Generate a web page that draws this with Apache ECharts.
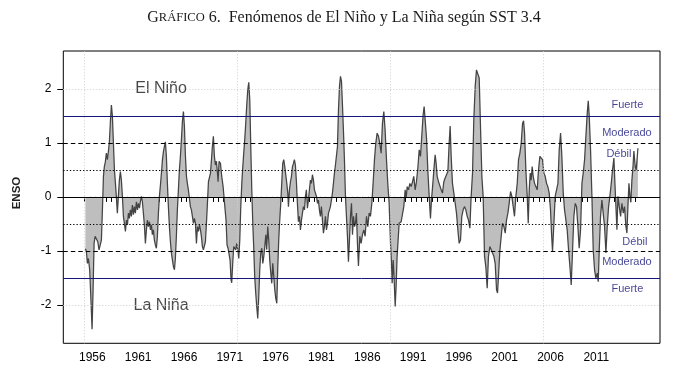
<!DOCTYPE html>
<html><head><meta charset="utf-8">
<script src="https://cdn.jsdelivr.net/npm/echarts@6/dist/echarts.min.js"></script>
<style>html,body{margin:0;padding:0;background:#fff}#c{width:681px;height:387px}</style>
</head><body><div id="c"></div>
<script>
// ENSO index (SST Niño 3.4 anomaly), [decimal year, value]
const enso1955 = [
[1955.24,-0.96],[1955.35,-1.01],[1955.46,-1.23],[1955.57,-1.14],[1955.71,-1.35],[1955.86,-1.97],[1955.97,-2.45],[1956.08,-1.72],
[1956.19,-0.86],[1956.30,-0.73],[1956.44,-0.70],[1956.59,-0.83],[1956.73,-0.98],[1956.88,-0.97],[1956.99,-0.80],[1957.10,-0.24],
[1957.21,0.38],[1957.31,0.56],[1957.42,0.65],[1957.53,0.81],[1957.64,0.69],[1957.75,0.84],[1957.86,1.02],[1957.97,1.40],
[1958.08,1.70],[1958.19,1.49],[1958.30,0.99],[1958.41,0.50],[1958.52,0.25],[1958.62,0.01],[1958.73,-0.30],[1958.84,0.01],
[1958.95,0.31],[1959.06,0.47],[1959.17,0.31],[1959.28,0.01],[1959.39,-0.36],[1959.50,-0.49],[1959.61,-0.64],[1959.72,-0.43],
[1959.83,-0.52],[1959.94,-0.30],[1960.04,-0.40],[1960.15,-0.24],[1960.26,-0.36],[1960.37,-0.15],[1960.48,-0.33],[1960.59,-0.18],
[1960.70,-0.30],[1960.81,-0.09],[1960.92,-0.24],[1961.03,-0.12],[1961.14,-0.21],[1961.24,-0.09],[1961.35,0.01],[1961.46,-0.09],
[1961.57,-0.30],[1961.68,-0.52],[1961.79,-0.86],[1961.90,-0.61],[1962.01,-0.43],[1962.12,-0.55],[1962.23,-0.46],[1962.34,-0.61],
[1962.45,-0.52],[1962.55,-0.70],[1962.66,-0.61],[1962.77,-0.80],[1962.88,-0.89],[1962.99,-0.95],[1963.10,-0.73],[1963.21,-0.30],
[1963.32,0.01],[1963.43,0.22],[1963.54,0.44],[1963.65,0.69],[1963.76,0.84],[1963.86,0.93],[1963.97,1.02],[1964.08,0.75],
[1964.19,0.25],[1964.30,-0.18],[1964.41,-0.55],[1964.52,-0.83],[1964.63,-1.04],[1964.74,-1.17],[1964.85,-1.29],[1964.96,-1.35],
[1965.06,-1.14],[1965.17,-0.73],[1965.28,-0.24],[1965.39,0.13],[1965.50,0.50],[1965.61,0.75],[1965.72,1.06],[1965.83,1.40],
[1965.94,1.58],[1966.05,1.30],[1966.16,0.75],[1966.27,0.38],[1966.37,0.25],[1966.48,0.13],[1966.59,-0.02],[1966.70,-0.18],
[1966.81,-0.24],[1966.92,-0.36],[1967.03,-0.49],[1967.14,-0.40],[1967.25,-0.49],[1967.36,-0.86],[1967.47,-0.55],[1967.58,-0.64],
[1967.69,-0.52],[1967.80,-0.61],[1967.90,-0.73],[1968.01,-0.92],[1968.12,-0.98],[1968.23,-1.01],[1968.34,-0.83],[1968.45,-0.49],
[1968.56,-0.12],[1968.67,0.28],[1968.78,0.28],[1968.89,0.44],[1969.00,0.69],[1969.10,0.93],[1969.21,1.12],[1969.32,0.75],
[1969.43,0.59],[1969.54,0.66],[1969.65,0.45],[1969.72,0.28],[1969.83,0.66],[1969.98,0.62],[1970.12,0.38],[1970.27,0.19]
];
const enso1970 = [
[1970.38,-0.02],[1970.49,-0.24],[1970.59,-0.43],[1970.70,-0.89],[1970.81,-0.95],[1970.92,-0.98],[1971.03,-1.17],[1971.14,-1.54],
[1971.21,-1.59],[1971.32,-1.23],[1971.43,-0.92],[1971.54,-0.89],[1971.65,-0.98],[1971.76,-0.86],[1971.87,-0.98],[1971.98,-1.14],
[1972.09,-0.80],[1972.20,-0.18],[1972.31,0.25],[1972.41,0.53],[1972.52,0.81],[1972.63,1.06],[1972.74,1.36],[1972.85,1.70],
[1972.96,1.98],[1973.07,2.12],[1973.18,1.80],[1973.29,0.93],[1973.40,0.13],[1973.51,-0.49],[1973.62,-0.98],[1973.72,-1.48],
[1973.83,-1.78],[1973.94,-2.03],[1974.05,-2.25],[1974.16,-1.85],[1974.27,-1.35],[1974.38,-1.04],[1974.49,-0.95],[1974.60,-1.23],
[1974.71,-1.10],[1974.82,-0.92],[1974.93,-0.70],[1975.03,-0.98],[1975.14,-0.55],[1975.25,-0.80],[1975.36,-1.17],[1975.47,-1.41],
[1975.58,-1.60],[1975.69,-1.23],[1975.80,-1.48],[1975.91,-1.72],[1976.02,-1.88],[1976.13,-1.97],[1976.24,-1.29],[1976.34,-0.80],
[1976.45,-0.43],[1976.56,-0.12],[1976.67,0.25],[1976.78,0.62],[1976.89,0.69],[1977.00,0.56],[1977.11,0.59],[1977.22,0.25],
[1977.33,0.07],[1977.40,-0.18],[1977.51,0.13],[1977.62,0.28],[1977.73,0.38],[1977.84,0.56],[1977.95,0.62],[1978.05,0.69],
[1978.16,0.59],[1978.27,0.28],[1978.38,-0.12],[1978.49,-0.46],[1978.60,-0.36],[1978.71,-0.61],[1978.82,-0.43],[1978.93,-0.30],
[1979.04,-0.18],[1979.15,-0.24],[1979.26,0.01],[1979.36,0.13],[1979.47,-0.21],[1979.58,-0.06],[1979.69,0.13],[1979.80,0.31],
[1979.91,0.25],[1980.02,0.41],[1980.13,0.31],[1980.24,0.13],[1980.35,0.16],[1980.46,0.01],[1980.57,-0.12],[1980.67,-0.06],
[1980.78,-0.24],[1980.89,-0.36],[1981.00,-0.18],[1981.11,-0.43],[1981.22,-0.67],[1981.33,-0.55],[1981.44,-0.36],[1981.55,-0.61],
[1981.66,-0.49],[1981.77,-0.30],[1981.88,-0.24],[1981.98,-0.18],[1982.09,-0.06],[1982.20,0.07],[1982.31,0.25],[1982.42,0.44],
[1982.53,0.59],[1982.64,0.56],[1982.75,0.93],[1982.86,1.61],[1982.97,2.04],[1983.08,2.23],[1983.19,2.14],[1983.29,1.73],
[1983.40,1.24],[1983.51,0.70],[1983.62,0.02],[1983.73,-0.36],[1983.84,-0.73],[1983.95,-1.20],[1984.06,-0.80],[1984.17,-0.36],
[1984.28,-0.12],[1984.39,-0.70],[1984.50,-0.36],[1984.61,-0.55],[1984.71,-0.49],[1984.82,-0.30],[1984.93,-0.86],[1985.04,-1.28]
];
const enso1985 = [
[1985.19,-0.73],[1985.33,-0.86],[1985.48,-0.70],[1985.63,-0.61],[1985.77,-0.73],[1985.92,-0.36],[1986.06,-0.55],[1986.21,-0.30],
[1986.35,-0.36],[1986.50,-0.12],[1986.64,0.25],[1986.79,0.69],[1986.93,0.99],[1987.08,1.18],[1987.23,1.12],[1987.37,0.99],
[1987.52,0.81],[1987.66,1.36],[1987.81,1.58],[1987.95,1.24],[1988.10,0.69],[1988.24,0.25],[1988.39,-0.12],[1988.54,-0.86],
[1988.65,-1.23],[1988.72,-1.60],[1988.83,-1.17],[1988.94,-1.54],[1989.05,-2.03],[1989.15,-1.66],[1989.26,-1.10],[1989.37,-0.80],
[1989.48,-0.49],[1989.59,-0.52],[1989.70,-0.46],[1989.85,-0.43],[1989.99,-0.18],[1990.14,0.13],[1990.25,-0.02],[1990.36,0.19],
[1990.50,0.13],[1990.65,0.25],[1990.79,0.19],[1990.94,0.28],[1991.08,0.38],[1991.23,0.13],[1991.37,0.28],[1991.52,0.53],
[1991.67,0.87],[1991.81,0.75],[1991.96,1.15],[1992.10,1.52],[1992.21,1.67],[1992.32,1.43],[1992.47,1.09],[1992.61,0.50],
[1992.76,0.01],[1992.90,-0.40],[1993.01,-0.06],[1993.16,0.25],[1993.30,0.56],[1993.41,0.78],[1993.52,0.62],[1993.63,0.38],
[1993.78,0.28],[1993.92,0.31],[1994.07,0.13],[1994.21,0.07],[1994.36,0.28],[1994.50,0.35],[1994.65,0.41],[1994.80,0.47],
[1994.94,0.99],[1995.05,1.31],[1995.16,0.75],[1995.30,0.25],[1995.45,0.07],[1995.60,-0.12],[1995.74,-0.30],[1995.89,-0.61],
[1996.03,-0.86],[1996.18,-0.80],[1996.32,-0.36],[1996.47,-0.24],[1996.61,-0.18],[1996.76,-0.24],[1996.91,-0.36],[1997.05,-0.43],
[1997.20,-0.58],[1997.34,0.01],[1997.49,0.44],[1997.63,1.43],[1997.78,2.04],[1997.92,2.35],[1998.07,2.38],[1998.22,2.20],
[1998.36,1.30],[1998.51,0.38],[1998.65,0.01],[1998.80,-1.10],[1998.94,-1.29],[1999.09,-1.69],[1999.23,-1.10],[1999.38,-0.92],
[1999.53,-0.98],[1999.67,-1.04],[1999.82,-1.10],[1999.96,-1.23],[2000.11,-1.72],[2000.22,-1.78],[2000.33,-1.45],[2000.47,-1.00]
];
const enso2000 = [
[2000.62,-0.73],[2000.76,-0.49],[2000.91,-0.55],[2001.06,-0.67],[2001.20,-0.43],[2001.35,-0.30],[2001.49,-0.12],[2001.64,0.10],
[2001.78,0.01],[2001.93,-0.18],[2002.07,-0.36],[2002.22,0.01],[2002.37,0.25],[2002.51,0.69],[2002.66,0.81],[2002.80,0.99],
[2002.95,1.36],[2003.06,1.41],[2003.17,1.18],[2003.31,0.50],[2003.46,0.01],[2003.57,-0.49],[2003.68,0.13],[2003.79,0.44],
[2003.89,0.31],[2004.00,0.56],[2004.11,0.38],[2004.26,0.25],[2004.40,0.19],[2004.55,0.13],[2004.69,0.50],[2004.84,0.75],
[2004.99,0.78],[2005.13,0.69],[2005.28,0.44],[2005.42,0.38],[2005.57,0.25],[2005.71,0.19],[2005.86,0.07],[2006.00,-0.24],
[2006.11,-0.67],[2006.22,-1.01],[2006.37,-0.49],[2006.51,0.01],[2006.66,0.13],[2006.81,0.25],[2006.95,0.87],[2007.10,1.18],
[2007.24,0.75],[2007.39,0.07],[2007.53,-0.24],[2007.68,-0.43],[2007.82,-0.61],[2007.97,-0.98],[2008.12,-1.29],[2008.26,-1.63],
[2008.41,-0.98],[2008.55,-0.36],[2008.70,-0.12],[2008.84,-0.18],[2008.99,-0.55],[2009.13,-0.95],[2009.28,-0.61],[2009.43,0.25],
[2009.57,0.44],[2009.72,0.69],[2009.86,1.12],[2010.01,1.55],[2010.12,1.78],[2010.23,1.49],[2010.37,0.87],[2010.52,0.01],
[2010.66,-0.98],[2010.81,-1.35],[2010.95,-1.51],[2011.10,-1.41],[2011.21,-1.57],[2011.32,-0.98],[2011.46,-0.36],[2011.61,-0.06],
[2011.75,-0.30],[2011.90,-0.55],[2012.05,-1.04],[2012.19,-0.55],[2012.34,-0.18],[2012.48,0.01],[2012.63,0.25],[2012.77,0.50],
[2012.92,0.72],[2013.03,0.25],[2013.14,-0.18],[2013.25,-0.61],[2013.36,0.01],[2013.50,-0.18],[2013.65,-0.36],[2013.79,-0.12],
[2013.94,-0.30],[2014.08,-0.18],[2014.23,-0.55],[2014.34,-0.67],[2014.45,-0.18],[2014.56,0.25],[2014.67,0.01],[2014.77,-0.10],
[2014.88,0.30],[2015.00,0.55],[2015.10,0.85],[2015.25,0.55],[2015.35,0.50],[2015.45,0.70],[2015.54,0.90]
];
const ensoSeries = enso1955.concat(enso1970, enso1985, enso2000);

// axis ticks & labels
const yearLabels = [1956, 1961, 1966, 1971, 1976, 1981, 1986, 1991, 1996, 2001, 2006, 2011];
const yTicks = [-2, -1, 0, 1, 2];
const monthZero = 1955 + 2 / 12;           // month index 0 of the series
const tickStepMonths = 7;
const tickCount = 104;
const gridMonths = [0, 200, 400, 600];
// ENSO intensity thresholds
const strong = 1.5, moderate = 1.0, weak = 0.5;

const xTicks = [];
for (let k = 0; k < tickCount; k++) xTicks.push(monthZero + k * tickStepMonths / 12);
const gridX = gridMonths.map(m => monthZero + m / 12);

const NAVY = '#14147a';
const sans = 'Liberation Sans';
const chart = echarts.init(document.getElementById('c'));
const noMark = { symbol: ['none', 'none'], silent: true, animation: false, label: { show: false } };

chart.setOption({
  animation: false,
  backgroundColor: '#fff',
  grid: { left: 63.3, right: 21, top: 51, bottom: 43.7, show: true, borderColor: '#000', borderWidth: 1, backgroundColor: 'transparent' },
  xAxis: {
    type: 'value', min: 1952.83, max: 2017.95,
    axisLine: { show: false }, splitLine: { show: false },
    axisTick: { show: true, customValues: xTicks, length: 5, lineStyle: { color: '#000', width: 1 } },
    axisLabel: { customValues: yearLabels, formatter: v => String(Math.round(v)), fontFamily: sans, fontSize: 12, color: '#000', margin: 8 }
  },
  yAxis: {
    type: 'value', min: -2.71, max: 2.70,
    axisLine: { show: false }, splitLine: { show: false },
    axisTick: { show: true, customValues: yTicks, length: 6, lineStyle: { color: '#000', width: 1 } },
    axisLabel: { customValues: yTicks, fontFamily: sans, fontSize: 12, color: '#000', margin: 12 }
  },
  graphic: [
    { type: 'text', x: 344, y: 18, style: {
        text: '{g|G}{s|RÁFICO}{n| 6.  Fenómenos de El Niño y La Niña según SST 3.4}',
        align: 'center', verticalAlign: 'middle',
        rich: {
          g: { fontFamily: 'Liberation Serif', fontSize: 16, fill: '#1a1a1a' },
          s: { fontFamily: 'Liberation Serif', fontSize: 12.5, fill: '#1a1a1a' },
          n: { fontFamily: 'Liberation Serif', fontSize: 16, fill: '#1a1a1a' }
        } } },
    { type: 'text', x: 17, y: 193, rotation: Math.PI / 2, style: {
        text: 'ENSO', fontFamily: sans, fontSize: 11.5, fontWeight: 'bold', fill: '#222', align: 'center', verticalAlign: 'middle' } }
  ],
  series: [
    { // background grid (R grid())
      type: 'line', z: 1, data: [[ensoSeries[0][0], 0]], showSymbol: false, lineStyle: { opacity: 0 },
      markLine: Object.assign({}, noMark, {
        lineStyle: { color: '#cfcfcf', type: [1, 2], width: 1 },
        data: gridX.map(x => ({ xAxis: x })).concat([{ yAxis: 2 }, { yAxis: -2 }])
      })
    },
    {
      type: 'line', z: 2, data: ensoSeries, showSymbol: false, symbol: 'none',
      lineStyle: { color: '#444', width: 1.25 },
      areaStyle: { color: '#bebebe', opacity: 1 }
    },
    { // reference lines
      type: 'line', z: 3, data: [[ensoSeries[0][0], 0]], showSymbol: false, lineStyle: { opacity: 0 },
      markLine: Object.assign({}, noMark, {
        data: [
          { yAxis: 0, lineStyle: { color: '#000', type: 'solid', width: 1 } },
          { yAxis: strong, lineStyle: { color: NAVY, type: 'solid', width: 1 } },
          { yAxis: -strong, lineStyle: { color: NAVY, type: 'solid', width: 1 } },
          { yAxis: moderate, lineStyle: { color: '#000', type: [4.5, 3], width: 1 } },
          { yAxis: -moderate, lineStyle: { color: '#000', type: [4.5, 3], width: 1 } },
          { yAxis: weak, lineStyle: { color: '#000', type: [1.3, 2], width: 1 } },
          { yAxis: -weak, lineStyle: { color: '#000', type: [1.3, 2], width: 1 } }
        ]
      })
    },
    { // text annotations
      type: 'scatter', z: 4, symbolSize: 0, silent: true,
      label: { show: true, position: 'inside', fontFamily: sans, fontSize: 11, color: NAVY, formatter: p => p.data.name },
      data: [
        { name: 'Fuerte', value: [2014.39, 1.70] },
        { name: 'Moderado', value: [2014.34, 1.19] },
        { name: 'Débil', value: [2013.47, 0.80] },
        { name: 'Débil', value: [2015.21, -0.83] },
        { name: 'Moderado', value: [2014.34, -1.20] },
        { name: 'Fuerte', value: [2014.39, -1.70] },
        { name: 'El Niño', value: [1963.5, 2.0], label: { fontSize: 16, color: '#1a1a1a' } },
        { name: 'La Niña', value: [1963.5, -2.02], label: { fontSize: 16, color: '#1a1a1a' } }
      ]
    }
  ]
});
</script></body></html>
